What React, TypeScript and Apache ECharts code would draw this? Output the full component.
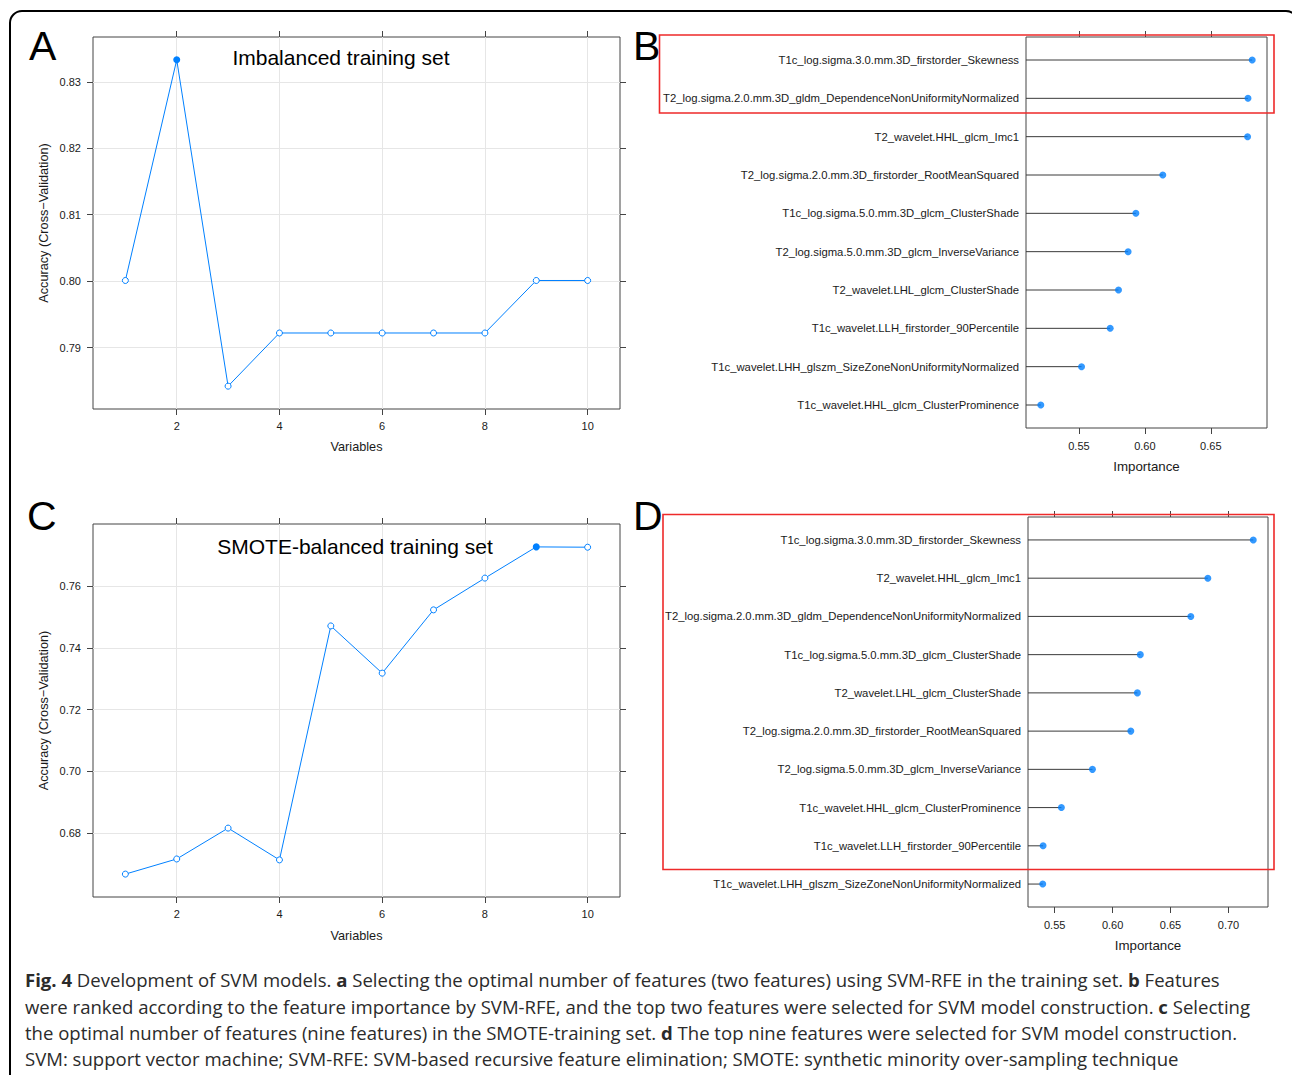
import React, { useEffect, useRef } from "react";
import * as echarts from "echarts";

// ---------- data ----------
const variablesX = [1, 2, 3, 4, 5, 6, 7, 8, 9, 10];
const accuracyImbalanced = [0.8001, 0.8333, 0.7842, 0.7922, 0.7922, 0.7922, 0.7922, 0.7922, 0.8001, 0.8001];
const accuracySmote = [0.6667, 0.6716, 0.6816, 0.6713, 0.7471, 0.7318, 0.7523, 0.7626, 0.7727, 0.7726];
const variableTicks = [2, 4, 6, 8, 10];
const accuracyTicksA = [0.79, 0.8, 0.81, 0.82, 0.83];
const accuracyTicksC = [0.68, 0.7, 0.72, 0.74, 0.76];

const featuresB = [
  "T1c_log.sigma.3.0.mm.3D_firstorder_Skewness",
  "T2_log.sigma.2.0.mm.3D_gldm_DependenceNonUniformityNormalized",
  "T2_wavelet.HHL_glcm_Imc1",
  "T2_log.sigma.2.0.mm.3D_firstorder_RootMeanSquared",
  "T1c_log.sigma.5.0.mm.3D_glcm_ClusterShade",
  "T2_log.sigma.5.0.mm.3D_glcm_InverseVariance",
  "T2_wavelet.LHL_glcm_ClusterShade",
  "T1c_wavelet.LLH_firstorder_90Percentile",
  "T1c_wavelet.LHH_glszm_SizeZoneNonUniformityNormalized",
  "T1c_wavelet.HHL_glcm_ClusterProminence",
];
const importanceB = [0.6814, 0.6782, 0.6779, 0.6136, 0.5932, 0.5873, 0.58, 0.5737, 0.552, 0.5211];
const importanceTicksB = [0.55, 0.6, 0.65];

const featuresD = [
  "T1c_log.sigma.3.0.mm.3D_firstorder_Skewness",
  "T2_wavelet.HHL_glcm_Imc1",
  "T2_log.sigma.2.0.mm.3D_gldm_DependenceNonUniformityNormalized",
  "T1c_log.sigma.5.0.mm.3D_glcm_ClusterShade",
  "T2_wavelet.LHL_glcm_ClusterShade",
  "T2_log.sigma.2.0.mm.3D_firstorder_RootMeanSquared",
  "T2_log.sigma.5.0.mm.3D_glcm_InverseVariance",
  "T1c_wavelet.HHL_glcm_ClusterProminence",
  "T1c_wavelet.LLH_firstorder_90Percentile",
  "T1c_wavelet.LHH_glszm_SizeZoneNonUniformityNormalized",
];
const importanceD = [0.7214, 0.6822, 0.6675, 0.6239, 0.6214, 0.6157, 0.5826, 0.5558, 0.54, 0.5397];
const importanceTicksD = [0.55, 0.6, 0.65, 0.7];

const captionLines: [string, string][][] = [
  [["b", "Fig. 4"], ["r", " Development of SVM models. "], ["b", "a"], ["r", " Selecting the optimal number of features (two features) using SVM-RFE in the training set. "], ["b", "b"], ["r", " Features"]],
  [["r", "were ranked according to the feature importance by SVM-RFE, and the top two features were selected for SVM model construction. "], ["b", "c"], ["r", " Selecting"]],
  [["r", "the optimal number of features (nine features) in the SMOTE-training set. "], ["b", "d"], ["r", " The top nine features were selected for SVM model construction."]],
  [["r", "SVM: support vector machine; SVM-RFE: SVM-based recursive feature elimination; SMOTE: synthetic minority over-sampling technique"]],
];
const captionTargetWidths = [1206, 1231, 1214, 1140];

// ---------- style ----------
const FONT = '"Liberation Sans", Arial, Helvetica, sans-serif';
const CAPFONT = '"Open Sans", "Noto Sans", sans-serif';
const BLUE = "#0080ff";
const BOX = "#444444";
const GRIDLINE = "#e6e6e6";
const TXT = "#1a1a1a";

function padRange(vals: number[]): [number, number] {
  const mn = Math.min(...vals);
  const mx = Math.max(...vals);
  const d = (mx - mn) * 0.07;
  return [mn - d, mx + d];
}

function valueAxis(o: any) {
  return {
    type: "value",
    gridIndex: o.grid,
    position: o.position,
    min: o.min,
    max: o.max,
    inverse: !!o.inverse,
    name: o.name || "",
    nameLocation: "middle",
    nameGap: o.nameGap || 30,
    nameTextStyle: { fontFamily: FONT, fontSize: o.nameSize || 12.7, color: TXT },
    axisLine: { show: false },
    axisTick: {
      show: o.ticks !== false,
      length: 6,
      customValues: o.tickValues,
      lineStyle: { color: BOX, width: 1 },
    },
    axisLabel: {
      show: !!o.labels,
      customValues: o.tickValues,
      margin: o.margin || 12,
      fontFamily: FONT,
      fontSize: o.labelSize || 11,
      color: TXT,
      formatter: o.formatter,
    },
    splitLine: { show: !!o.split, lineStyle: { color: GRIDLINE, width: 1 } },
  };
}

function measureFit(): number {
  const ctx = document.createElement("canvas").getContext("2d");
  if (!ctx) return 19;
  let sum = 0;
  captionLines.forEach((line, i) => {
    let w = 0;
    line.forEach(([s, t]) => {
      ctx.font = `${s === "b" ? "bold " : ""}100px ${CAPFONT}`;
      w += ctx.measureText(t).width;
    });
    sum += (100 * captionTargetWidths[i]) / w;
  });
  return sum / captionLines.length;
}

export default function App() {
  const ref = useRef<HTMLDivElement>(null);

  useEffect(() => {
    if (!ref.current) return;
    const chart = echarts.init(ref.current, undefined, { renderer: "svg" });

    const xR = padRange(variablesX);
    const yA = padRange(accuracyImbalanced);
    const yC = padRange(accuracySmote);
    const xB = padRange(importanceB);
    const xD = padRange(importanceD);
    const rowR: [number, number] = [0.4, 10.6];
    const f2 = (v: number) => v.toFixed(2);
    const fi = (v: number) => String(Math.round(v));

    const maxA = accuracyImbalanced.indexOf(Math.max(...accuracyImbalanced));
    const maxC = accuracySmote.indexOf(Math.max(...accuracySmote));

    const accSeries = (xi: number, yi: number, vals: number[], sel: number) => ({
      type: "line",
      xAxisIndex: xi,
      yAxisIndex: yi,
      symbol: "circle",
      data: variablesX.map((x, i) => ({
        value: [x, vals[i]],
        symbolSize: i === sel ? 7 : 6,
        itemStyle:
          i === sel
            ? { color: BLUE, borderColor: BLUE, borderWidth: 0 }
            : { color: "#ffffff", borderColor: BLUE, borderWidth: 1 },
      })),
      lineStyle: { color: BLUE, width: 1 },
      z: 5,
    });

    const stemSeries = (xi: number, yi: number, vals: number[]) => ({
      type: "custom",
      xAxisIndex: xi,
      yAxisIndex: yi,
      data: vals.map((v, i) => [v, i + 1]),
      encode: { x: 0, y: 1 },
      renderItem: (params: any, api: any) => {
        const end = api.coord([api.value(0), api.value(1)]);
        return {
          type: "line",
          shape: { x1: params.coordSys.x, y1: end[1], x2: end[0], y2: end[1] },
          style: { stroke: "#3a3a3a", lineWidth: 1 },
        };
      },
      z: 3,
    });

    const dotSeries = (xi: number, yi: number, vals: number[]) => ({
      type: "scatter",
      xAxisIndex: xi,
      yAxisIndex: yi,
      data: vals.map((v, i) => [v, i + 1]),
      symbol: "circle",
      symbolSize: 7,
      itemStyle: { color: BLUE },
      z: 5,
    });

    const capSize = measureFit();
    const capLineY = [979, 1006, 1032, 1058];
    const capColor = "#2b2b2b";
    const capRich = {
      r: { fontFamily: CAPFONT, fontSize: capSize, fontWeight: "normal", fill: capColor },
      b: { fontFamily: CAPFONT, fontSize: capSize, fontWeight: "bold", fill: capColor },
    };

    const letter = (t: string, x: number, y: number) => ({
      type: "text",
      x,
      y,
      style: { text: t, fontFamily: FONT, fontSize: 41, fill: "#000", verticalAlign: "middle", align: "left" },
      z: 20,
    });

    const title = (t: string, x: number, y: number) => ({
      type: "text",
      x,
      y,
      style: { text: t, fontFamily: FONT, fontSize: 21, fill: "#000", verticalAlign: "middle", align: "center" },
      z: 20,
    });

    const gridBase = { show: true, borderColor: BOX, borderWidth: 1, backgroundColor: "transparent", containLabel: false };

    chart.setOption({
      animation: false,
      backgroundColor: "#ffffff",
      grid: [
        { ...gridBase, left: 93, top: 37, width: 527, height: 372 },
        { ...gridBase, left: 93, top: 524, width: 527, height: 373 },
        { ...gridBase, left: 1026, top: 37, width: 241, height: 391 },
        { ...gridBase, left: 1028, top: 517, width: 240, height: 390 },
      ],
      xAxis: [
        valueAxis({ grid: 0, position: "bottom", min: xR[0], max: xR[1], tickValues: variableTicks, labels: true, split: true, margin: 11, formatter: fi, name: "Variables", nameGap: 31 }),
        valueAxis({ grid: 0, position: "top", min: xR[0], max: xR[1], tickValues: variableTicks }),
        valueAxis({ grid: 1, position: "bottom", min: xR[0], max: xR[1], tickValues: variableTicks, labels: true, split: true, margin: 11, formatter: fi, name: "Variables", nameGap: 32 }),
        valueAxis({ grid: 1, position: "top", min: xR[0], max: xR[1], tickValues: variableTicks }),
        valueAxis({ grid: 2, position: "bottom", min: xB[0], max: xB[1], tickValues: importanceTicksB, labels: true, margin: 12, formatter: f2, name: "Importance", nameGap: 32, nameSize: 13.3 }),
        valueAxis({ grid: 2, position: "top", min: xB[0], max: xB[1], tickValues: importanceTicksB }),
        valueAxis({ grid: 3, position: "bottom", min: xD[0], max: xD[1], tickValues: importanceTicksD, labels: true, margin: 12, formatter: f2, name: "Importance", nameGap: 32, nameSize: 13.3 }),
        valueAxis({ grid: 3, position: "top", min: xD[0], max: xD[1], tickValues: importanceTicksD }),
      ],
      yAxis: [
        valueAxis({ grid: 0, position: "left", min: yA[0], max: yA[1], tickValues: accuracyTicksA, labels: true, split: true, margin: 12, formatter: f2, name: "Accuracy (Cross\u2212Validation)", nameGap: 43 }),
        valueAxis({ grid: 0, position: "right", min: yA[0], max: yA[1], tickValues: accuracyTicksA }),
        valueAxis({ grid: 1, position: "left", min: yC[0], max: yC[1], tickValues: accuracyTicksC, labels: true, split: true, margin: 12, formatter: f2, name: "Accuracy (Cross\u2212Validation)", nameGap: 43 }),
        valueAxis({ grid: 1, position: "right", min: yC[0], max: yC[1], tickValues: accuracyTicksC }),
        valueAxis({ grid: 2, position: "left", min: rowR[0], max: rowR[1], inverse: true, ticks: false, tickValues: variablesX, labels: true, margin: 7, labelSize: 11.3, formatter: (v: number) => featuresB[Math.round(v) - 1] }),
        valueAxis({ grid: 3, position: "left", min: rowR[0], max: rowR[1], inverse: true, ticks: false, tickValues: variablesX, labels: true, margin: 7, labelSize: 11.3, formatter: (v: number) => featuresD[Math.round(v) - 1] }),
      ],
      series: [
        accSeries(0, 0, accuracyImbalanced, maxA),
        accSeries(2, 2, accuracySmote, maxC),
        stemSeries(4, 4, importanceB),
        dotSeries(4, 4, importanceB),
        stemSeries(6, 5, importanceD),
        dotSeries(6, 5, importanceD),
      ],
      graphic: [
        {
          type: "rect",
          shape: { x: 10, y: 11, width: 1288, height: 1080, r: 12 },
          style: { fill: "none", stroke: "#000", lineWidth: 2 },
          z: 1,
        },
        { type: "rect", shape: { x: 659.5, y: 35, width: 614.5, height: 78 }, style: { fill: "none", stroke: "#ee2a2a", lineWidth: 1.6 }, z: 30 },
        { type: "rect", shape: { x: 663, y: 514.5, width: 611, height: 355 }, style: { fill: "none", stroke: "#ee2a2a", lineWidth: 1.6 }, z: 30 },
        letter("A", 29, 46),
        letter("B", 633, 46),
        letter("C", 27, 516),
        letter("D", 633, 516),
        title("Imbalanced training set", 341, 57),
        title("SMOTE-balanced training set", 355, 546),
        ...captionLines.map((line, i) => ({
          type: "text",
          x: 25,
          y: capLineY[i],
          style: {
            text: line.map(([s, t]) => `{${s}|${t}}`).join(""),
            rich: capRich,
            fontFamily: CAPFONT,
            fontSize: capSize,
            fill: capColor,
            verticalAlign: "middle",
            align: "left",
          },
          z: 20,
        })),
      ],
    });

    return () => chart.dispose();
  }, []);

  return (
    <div
      ref={ref}
      style={{ position: "absolute", left: 0, top: 0, width: 1292, height: 1075, background: "#fff" }}
    />
  );
}
